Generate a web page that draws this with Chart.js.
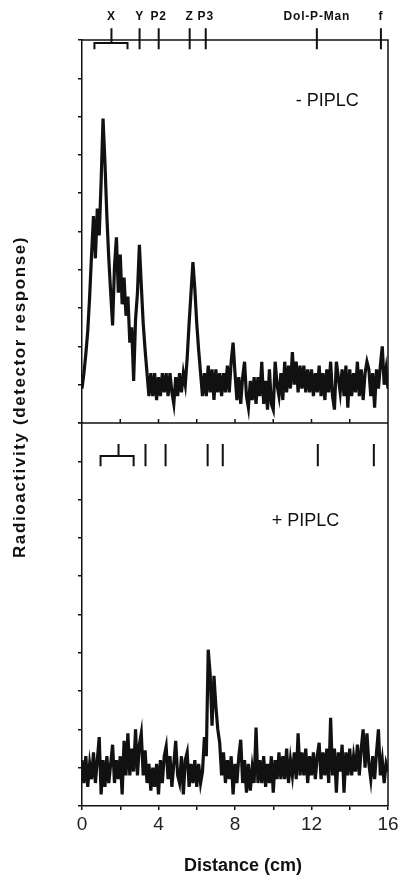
<!DOCTYPE html>
<html>
<head>
<meta charset="utf-8">
<script src="https://cdn.jsdelivr.net/npm/chart.js@4.4.1/dist/chart.umd.min.js"></script>
<style>
  body { margin: 0; background: #fff; }
  canvas { display: block; }
</style>
</head>
<body>
<canvas id="scan" width="404" height="876"></canvas>
<script>
// scan step along the plate (cm)
const step = 0.1;

// - PIPLC trace, one value every 0.1 cm from 0 to 16 cm
const minusPiplc = [
  0.9, 1.3, 1.8, 2.4, 3.3, 4.4, 5.4, 4.3, 5.6, 4.9,
  6.3, 7.95, 6.8, 5.4, 4.3, 3.4, 2.55, 4.1, 4.85, 3.4,
  4.4, 3.1, 3.8, 2.8, 3.3, 2.1, 2.5, 1.1, 2.7, 3.4,
  4.65, 3.6, 2.6, 1.9, 1.3, 0.7, 1.3, 0.7, 1.3, 0.6,
  1.2, 0.7, 1.3, 0.8, 1.3, 0.7, 1.3, 0.8, 0.5, 1.2,
  0.7, 1.3, 0.8, 1.3, 1.0, 1.7, 2.6, 3.4, 4.2, 3.5,
  2.6, 1.9, 1.3, 0.7, 1.3, 0.7, 1.5, 0.8, 1.4, 0.6,
  1.4, 0.8, 1.3, 0.7, 1.3, 0.8, 1.5, 0.8, 1.6, 2.1,
  1.3, 0.6, 1.2, 0.5, 1.2, 1.6, 0.7, 0.4, 1.1, 0.6,
  1.2, 0.5, 1.2, 0.7, 1.6, 0.5, 1.1, 0.35, 1.4, 0.5,
  0.35, 1.6, 1.0, 0.7, 1.3, 0.6, 1.6, 0.8, 1.5, 0.9,
  1.85, 1.0, 1.6, 0.8, 1.5, 0.9, 1.5, 0.8, 1.4, 0.8,
  1.4, 0.7, 1.3, 0.8, 1.5, 0.7, 1.3, 0.6, 1.4, 0.8,
  1.6, 0.7, 0.35, 1.6, 1.2, 0.8, 1.4, 0.7, 1.5, 0.4,
  1.4, 0.7, 1.3, 0.8, 1.6, 0.7, 1.4, 0.6, 1.3, 1.6,
  1.4, 0.7, 1.3, 0.4, 1.4, 0.9, 1.5, 2.0, 1.0, 1.4,
  0.9
];

// + PIPLC trace
const plusPiplc = [
  1.2, 0.6, 1.3, 0.5, 1.1, 0.7, 1.4, 0.6, 1.2, 1.8,
  0.3, 1.2, 0.5, 1.3, 0.6, 1.1, 1.6, 0.6, 1.2, 0.7,
  1.3, 0.3, 1.7, 0.8, 1.9, 0.8, 1.5, 0.9, 2.0, 0.8,
  1.6, 1.9, 0.8, 1.45, 0.6, 1.1, 0.4, 1.0, 0.5, 1.1,
  0.3, 1.2, 0.6, 1.3, 1.55, 0.7, 1.3, 0.5, 1.1, 1.7,
  0.8, 0.6, 1.3, 0.3, 1.2, 1.4, 0.5, 1.1, 0.6, 1.2,
  0.5, 1.1, 0.6, 0.9, 1.8, 1.3, 4.08, 3.45, 2.1, 3.4,
  2.6, 2.0, 1.65, 0.8, 1.4, 0.6, 1.2, 0.7, 1.3, 0.3,
  1.1, 0.6, 1.3, 1.73, 0.6, 1.2, 0.35, 1.1, 0.4, 1.0,
  0.6, 2.05, 0.6, 1.2, 0.6, 1.3, 0.5, 1.1, 0.6, 1.3,
  0.35, 1.2, 0.7, 1.4, 0.7, 1.3, 0.7, 1.5, 0.6, 1.2,
  0.8, 1.4, 0.7, 1.9, 0.8, 1.4, 0.8, 1.5, 0.6, 1.3,
  0.8, 1.4, 0.7, 1.3, 1.65, 0.7, 1.4, 0.8, 1.5, 0.6,
  2.3, 0.8, 1.5, 0.35, 1.4, 0.9, 1.6, 0.35, 1.4, 0.8,
  1.5, 0.8, 1.3, 0.9, 1.6, 0.8, 1.5, 2.0, 1.0, 1.9,
  1.1, 0.7, 1.3, 0.7, 1.4, 2.0, 0.8, 1.2, 0.6, 1.1,
  0.9
];

// standard markers (cm). bracket = left end, stem, right end of the X band
const topBracket = [0.65, 1.54, 2.38];
const topMarks = [3.01, 4.01, 5.63, 6.47, 12.28, 15.63];
const markNames = ['X', 'Y', 'P2', 'Z', 'P3', 'Dol-P-Man', 'f'];
const botBracket = [0.97, 1.91, 2.70];
const botMarks = [3.32, 4.37, 6.57, 7.36, 12.33, 15.26];

const xTicks = [0, 4, 8, 12, 16];

const toPoints = (vals) => vals.map((v, i) => ({ x: +(i * step).toFixed(2), y: v }));

// builds the little bracket + vertical bars as one broken line
function markerPoints(bracket, marks, lo, mid, hi) {
  const [a, s, b] = bracket;
  const pts = [
    { x: a, y: lo }, { x: a, y: mid }, { x: b, y: mid }, { x: b, y: lo }, { x: b, y: null },
    { x: s, y: mid }, { x: s, y: hi }, { x: s, y: null }
  ];
  marks.forEach(m => pts.push({ x: m, y: lo }, { x: m, y: hi }, { x: m, y: null }));
  return pts;
}

const ink = '#111';

const framePlugin = {
  id: 'frame',
  afterDraw(chart) {
    const { ctx, chartArea, scales } = chart;
    const x = scales.x;
    const midY = scales.yTop.bottom;
    ctx.save();
    ctx.strokeStyle = ink;
    ctx.lineWidth = 1.5;
    ctx.beginPath();
    ctx.moveTo(chartArea.left, chartArea.top);
    ctx.lineTo(chartArea.right, chartArea.top);
    ctx.lineTo(chartArea.right, chartArea.bottom);
    ctx.moveTo(chartArea.left, midY);
    ctx.lineTo(chartArea.right, midY);
    // small ticks on the dividing line
    for (let v = 2; v < 16; v += 2) {
      const px = x.getPixelForValue(v);
      ctx.moveTo(px, midY);
      ctx.lineTo(px, midY - 4);
    }
    ctx.stroke();

    ctx.fillStyle = ink;
    ctx.textBaseline = 'middle';
    ctx.textAlign = 'center';
    ctx.font = 'bold 12px "Liberation Sans", Arial, sans-serif';
    ctx.letterSpacing = '0.8px';
    const namePos = [topBracket[1], ...topMarks];
    markNames.forEach((n, i) => ctx.fillText(n, x.getPixelForValue(namePos[i]), 17));

    ctx.letterSpacing = '0px';
    ctx.textAlign = 'left';
    ctx.font = '18px "Liberation Sans", Arial, sans-serif';
    ctx.fillText('- PIPLC', x.getPixelForValue(11.18), scales.yTop.getPixelForValue(8.41));
    ctx.fillText('+ PIPLC', x.getPixelForValue(9.92), scales.yBot.getPixelForValue(7.43));

    ctx.textAlign = 'center';
    ctx.font = 'bold 18px "Liberation Sans", Arial, sans-serif';
    ctx.fillText('Distance (cm)', 243, 866);

    ctx.translate(20, 397);
    ctx.rotate(-Math.PI / 2);
    ctx.font = 'bold 17px "Liberation Sans", Arial, sans-serif';
    ctx.letterSpacing = '1.6px';
    ctx.fillText('Radioactivity (detector response)', 0, 0);
    ctx.restore();
  }
};

const yAxis = (weight) => ({
  type: 'linear',
  position: 'left',
  stack: 'panels',
  stackWeight: 1,
  weight: weight,
  min: 0,
  max: 10,
  ticks: { display: false, stepSize: 1 },
  grid: { drawOnChartArea: false, tickLength: 4, color: ink, lineWidth: 1.5 },
  border: { color: ink, width: 1.5 },
  afterFit: (s) => { s.width = 82; }
});

const traceStyle = {
  borderColor: ink,
  borderWidth: 3.2,
  borderJoinStyle: 'miter',
  pointRadius: 0,
  tension: 0
};

new Chart(document.getElementById('scan').getContext('2d'), {
  type: 'line',
  data: {
    datasets: [
      { label: '- PIPLC', data: toPoints(minusPiplc), yAxisID: 'yTop', ...traceStyle },
      { label: '+ PIPLC', data: toPoints(plusPiplc), yAxisID: 'yBot', ...traceStyle },
      {
        label: 'markers top',
        data: markerPoints(topBracket, topMarks, 9.76, 9.92, 10.31),
        yAxisID: 'yTop',
        borderColor: ink,
        borderWidth: 2,
        pointRadius: 0,
        spanGaps: false,
        clip: false
      },
      {
        label: 'markers bottom',
        data: markerPoints(botBracket, botMarks, 8.87, 9.14, 9.45),
        yAxisID: 'yBot',
        borderColor: ink,
        borderWidth: 2,
        pointRadius: 0,
        spanGaps: false,
        clip: false
      }
    ]
  },
  options: {
    responsive: false,
    animation: false,
    layout: { padding: { top: 40, right: 16, left: 0, bottom: 0 } },
    plugins: {
      legend: { display: false },
      tooltip: { enabled: false }
    },
    scales: {
      x: {
        type: 'linear',
        position: 'bottom',
        min: 0,
        max: 16,
        ticks: {
          stepSize: 2,
          autoSkip: false,
          maxRotation: 0,
          padding: 3,
          color: '#222',
          font: { family: '"Liberation Sans", Arial, sans-serif', size: 19 },
          callback: (v) => xTicks.includes(v) ? String(v) : ''
        },
        grid: { drawOnChartArea: false, tickLength: 4, color: ink, lineWidth: 1.5 },
        border: { color: ink, width: 1.5 },
        afterFit: (s) => { s.height = 70; }
      },
      yTop: yAxis(2),
      yBot: yAxis(1)
    }
  },
  plugins: [framePlugin]
});
</script>
</body>
</html>
